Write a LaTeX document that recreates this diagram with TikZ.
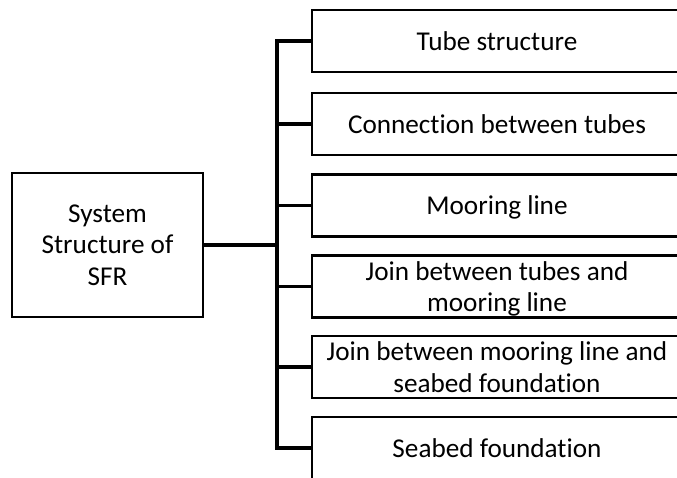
\documentclass[tikz,border=0pt]{standalone}
\usepackage{fontspec}
\setmainfont{Carlito}[RawFeature=-liga]
\begin{document}
\begin{tikzpicture}[x=1pt,y=-1pt,
  box/.style={draw=black, line width=2.8pt, fill=white, align=center, inner sep=0pt,
    font=\fontsize{27.2}{31.5}\selectfont},
  sub/.style={box, minimum width=370pt, minimum height=62pt, text depth=0pt},
  conn/.style={draw=black, line width=3.3pt}]
\useasboundingbox (0,0) rectangle (677,478);
\clip (0,0) rectangle (677,478);
\fill[white] (0,0) rectangle (677,478);
\node[box, minimum width=191pt, minimum height=144pt] (main) at (107.5,245) {System\\Structure of\\SFR};
\node[sub] (b1) at (497,41) {Tube structure};
\node[sub] (b2) at (497,124) {Connection between tubes};
\node[sub] (b3) at (497,205.5) {Mooring line};
\node[sub] (b4) at (497,286.5) {Join between tubes and\\mooring line};
\node[sub] (b5) at (497,367) {Join between mooring line and\\seabed foundation};
\node[sub] (b6) at (497,448) {Seabed foundation};
\coordinate (trunk) at (277,0);
\draw[conn] (main.east) -- (main.east -| trunk);
\draw[conn, line cap=rect] (b1.west -| trunk) -- (b6.west -| trunk);
\foreach \i in {1,...,6} {\draw[conn] (b\i.west -| trunk) -- (b\i.west);}
\end{tikzpicture}
\end{document}
